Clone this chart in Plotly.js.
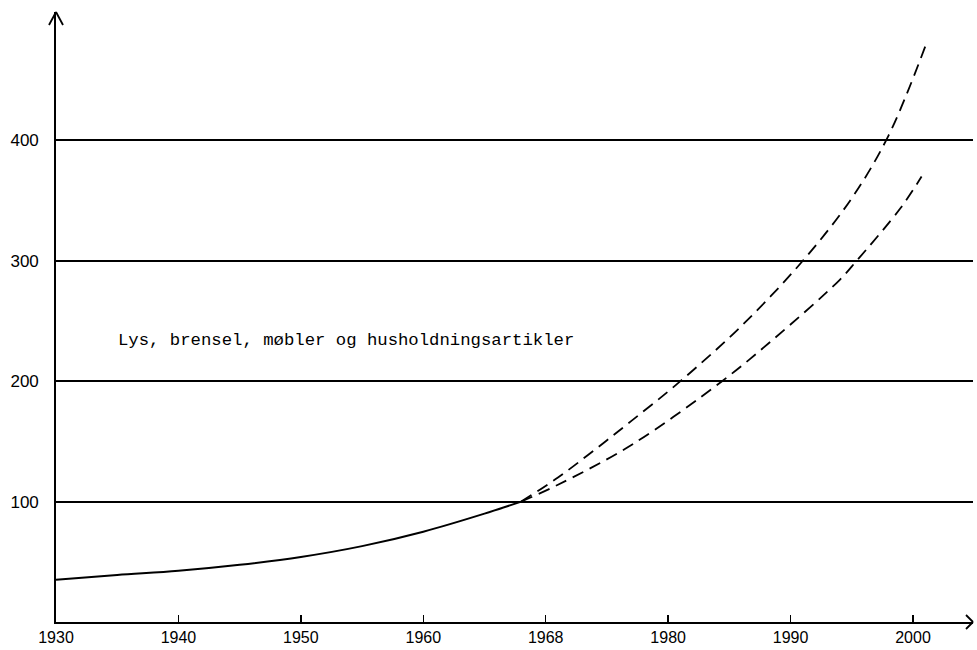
<!DOCTYPE html>
<html>
<head>
<meta charset="utf-8">
<script src="https://cdn.plot.ly/plotly-3.0.1.min.js"></script>
<style>html,body{margin:0;padding:0;background:#fff;}#chart{width:977px;height:650px;}</style>
</head>
<body>
<div id="chart"></div>
<script>
// Historical index (solid)
const histYears = [1930, 1935, 1940, 1945, 1950, 1955, 1960, 1965, 1968];
const histValues = [35, 39, 42.5, 47.5, 54, 63, 75, 90, 100];

// Projection, upper (dashed)
const upperYears = [1968, 1971, 1974, 1977, 1981, 1986, 1991, 1995, 1998, 2001];
const upperValues = [100, 120, 143, 167, 200, 246, 300, 352, 404, 478];

// Projection, lower (dashed)
const lowerYears = [1968, 1971, 1977, 1984.4, 1988.5, 1994, 1995.4, 1999, 2000.7];
const lowerValues = [100, 114, 147, 200, 234, 284, 300, 344, 370];

// Axis ticks
const xTickVals = [1930, 1940, 1950, 1960, 1970, 1980, 1990, 2000];
const xTickText = ['1930', '1940', '1950', '1960', '1968', '1980', '1990', '2000'];
const yTickVals = [100, 200, 300, 400];
const yTickText = ['100', '200', '300', '400'];

const labelText = 'Lys, brensel, møbler og husholdningsartikler';

const xMin = 1930, xMax = 2004.9, yMin = 0, yMax = 506.6;

const traces = [
  {x: histYears, y: histValues, mode: 'lines', line: {color: '#000', width: 2, shape: 'spline'}, hoverinfo: 'skip'},
  {x: upperYears, y: upperValues, mode: 'lines', line: {color: '#000', width: 1.8, dash: '12px,7px', shape: 'spline'}, hoverinfo: 'skip'},
  {x: lowerYears, y: lowerValues, mode: 'lines', line: {color: '#000', width: 1.8, dash: '12px,7px', shape: 'spline'}, hoverinfo: 'skip'}
];

function arrowArm(xa, ya, dx, dy) {
  return {type: 'line', xref: 'paper', yref: 'paper', xsizemode: 'pixel', ysizemode: 'pixel',
    xanchor: xa, yanchor: ya, x0: dx, y0: dy, x1: 0, y1: 0,
    line: {color: '#000', width: 1.8}};
}

const layout = {
  width: 977, height: 650,
  margin: {l: 56, r: 4, t: 12, b: 28},
  paper_bgcolor: '#fff', plot_bgcolor: '#fff',
  showlegend: false,
  font: {family: 'Liberation Sans, Arial, sans-serif', color: '#000', size: 17},
  xaxis: {
    range: [xMin, xMax], tickmode: 'array', tickvals: xTickVals, ticktext: xTickText,
    showgrid: false, zeroline: false, showline: true, linecolor: '#000', linewidth: 1.8,
    ticks: 'inside', ticklen: 7, tickwidth: 1.5, tickcolor: '#000', ticklabelstandoff: 0,
    tickfont: {family: 'Liberation Sans, Arial, sans-serif', size: 16, color: '#000'},
    fixedrange: true
  },
  yaxis: {
    range: [yMin, yMax], tickmode: 'array', tickvals: yTickVals, ticktext: yTickText,
    showgrid: true, gridcolor: '#000', gridwidth: 2, zeroline: false,
    showline: true, linecolor: '#000', linewidth: 1.8, ticks: '', ticklabelstandoff: 12,
    tickfont: {family: 'Liberation Sans, Arial, sans-serif', size: 17, color: '#000'},
    fixedrange: true
  },
  shapes: [
    arrowArm(0, 1, -7, -13),
    arrowArm(0, 1, 7, -13),
    arrowArm(1, 0, -7, 7),
    arrowArm(1, 0, -7, -7)
  ],
  annotations: [{
    text: labelText, xref: 'x', yref: 'y', x: 1934.9, y: 234,
    xanchor: 'left', yanchor: 'middle', showarrow: false,
    font: {family: 'Liberation Mono, Courier New, monospace', size: 17.3, color: '#000'}
  }]
};

Plotly.newPlot('chart', traces, layout, {displayModeBar: false, staticPlot: true});
</script>
</body>
</html>
